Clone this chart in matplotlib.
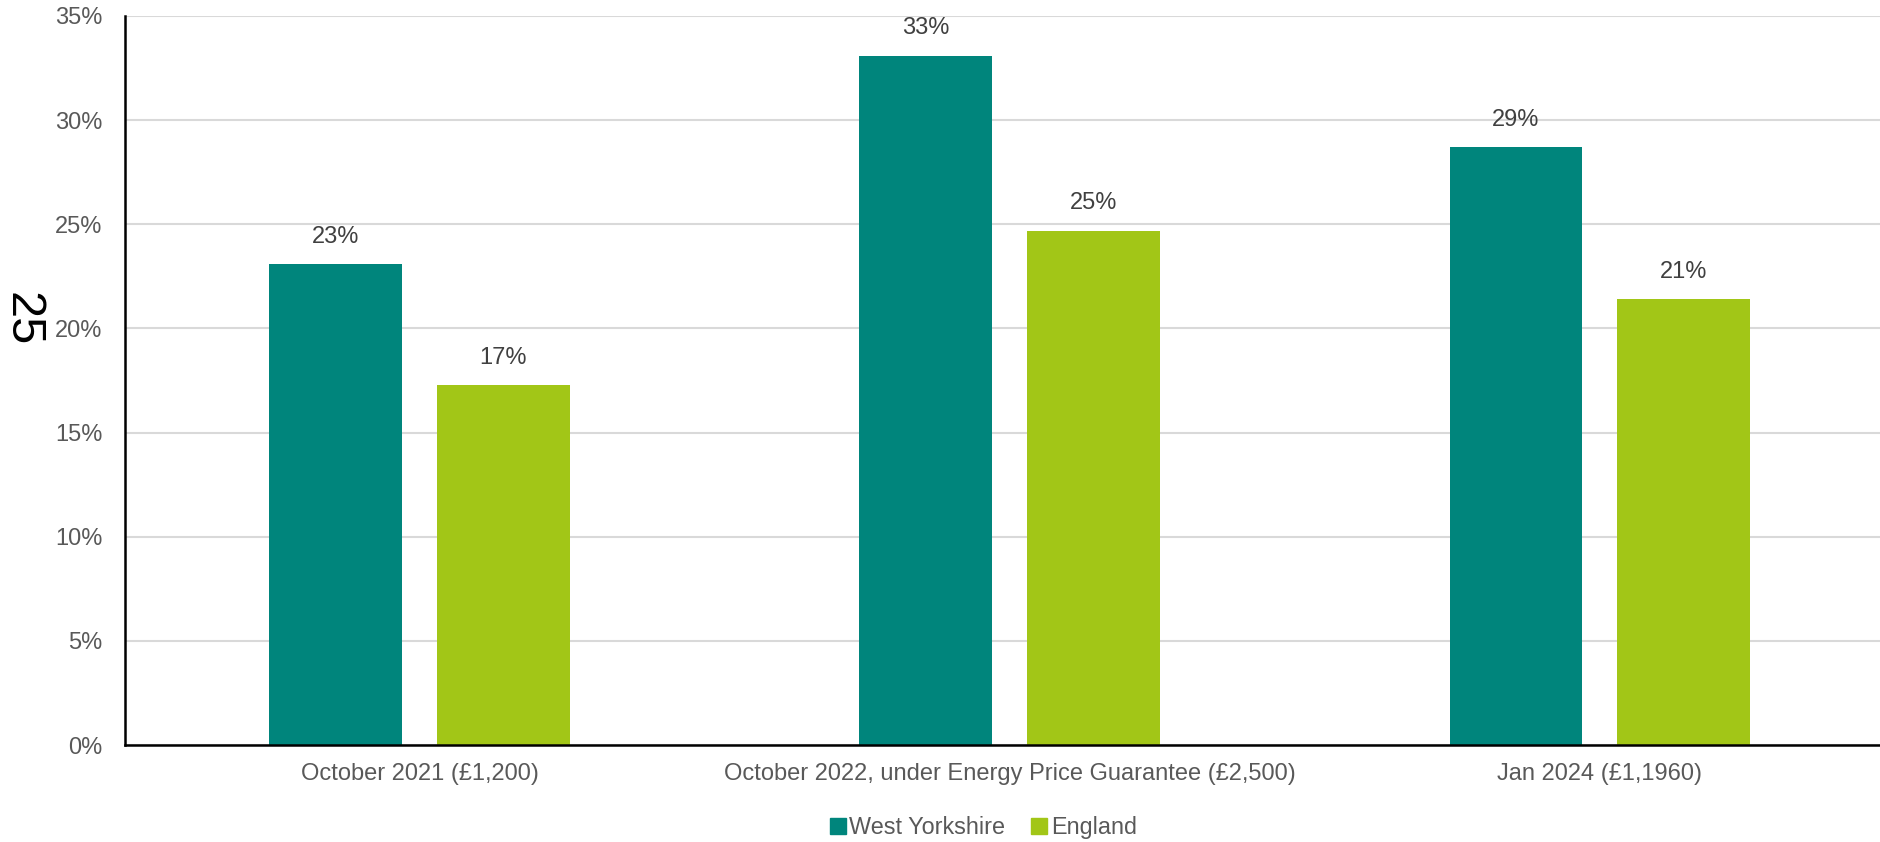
import matplotlib.pyplot as plt
from matplotlib.patches import Patch
import numpy as np

plt.rcParams['font.family'] = ['Liberation Sans', 'DejaVu Sans']

categories = ['October 2021 (£1,200)',
              'October 2022, under Energy Price Guarantee (£2,500)',
              'Jan 2024 (£1,1960)']
west_yorkshire = [23.1, 33.1, 28.7]
england = [17.3, 24.7, 21.4]
series_names = ['West Yorkshire', 'England']
colors = ['#00857C', '#A2C617']

fig = plt.figure(figsize=(18.8, 8.42), dpi=100)
ax = fig.add_axes([0.0663, 0.1152, 0.9415, 0.8658])

x = np.arange(len(categories))
width = 0.225
offset = 0.142

for vals, off, col in [(west_yorkshire, -offset, colors[0]), (england, offset, colors[1])]:
    bars = ax.bar(x + off, vals, width, color=col, zorder=3)
    for b, v in zip(bars, vals):
        ax.annotate(f'{v:.0f}%', (b.get_x() + b.get_width() / 2, v),
                    xytext=(0, 19.5), textcoords='offset points',
                    ha='center', va='center', fontsize=17, color='#404040')

ax.set_xlim(-0.5, 2.5)
ax.set_ylim(0, 35)
ax.set_yticks(range(0, 36, 5))
ax.set_yticklabels([f'{t}%' for t in range(0, 36, 5)])
ax.set_xticks(x)
ax.set_xticklabels(categories)
ax.tick_params(axis='both', length=0, labelsize=17, colors='#595959')
ax.tick_params(axis='y', pad=16)
ax.tick_params(axis='x', pad=13)

ax.grid(axis='y', color='#d9d9d9', linewidth=1.5, zorder=0)
ax.set_axisbelow(True)
for s in ['top', 'right']:
    ax.spines[s].set_visible(False)
for s in ['left', 'bottom']:
    ax.spines[s].set_color('black')
    ax.spines[s].set_linewidth(1.8)
    ax.spines[s].set_zorder(4)

fig.text(0.0118, 0.621, '25', rotation=-90, fontsize=35, color='black',
         ha='center', va='center')

handles = [Patch(color=c, label=n) for c, n in zip(colors, series_names)]
fig.legend(handles=handles, loc='center', bbox_to_anchor=(0.523, 0.017),
           ncol=2, frameon=False, fontsize=16.8, labelcolor='#595959',
           handlelength=0.7, handleheight=0.7, handletextpad=0.15,
           columnspacing=1.1)

fig.savefig('out.png', dpi=100)
plt.close(fig)
